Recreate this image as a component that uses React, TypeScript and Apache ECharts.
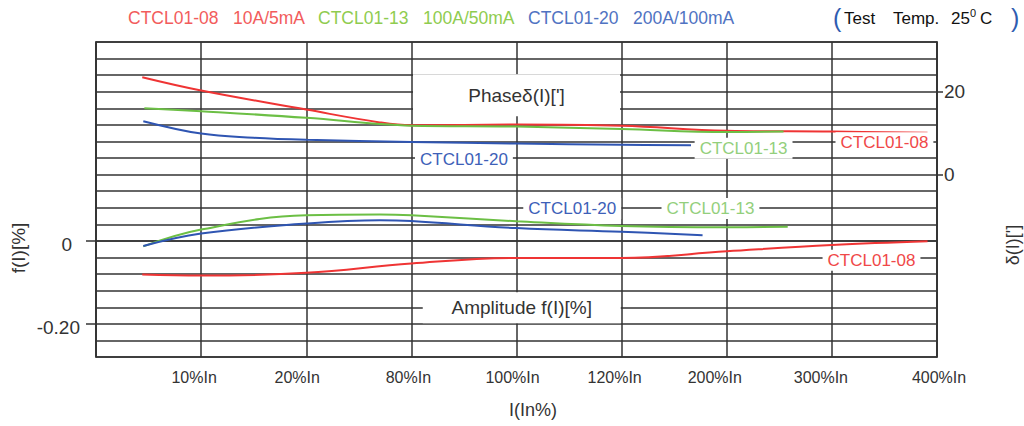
import React, { useEffect, useRef } from "react";
import * as echarts from "echarts";

// ---- data ----
const xTicks = ["", "10%In", "20%In", "80%In", "100%In", "120%In", "200%In", "300%In", "400%In"];
const leftTickValues = [0, -0.2];
const rightTickValues = [0, 20];

// Phase δ(I) ['] (right axis)
const phase08 = [[0.44, 23.5], [1, 20.3], [2, 15.7], [2.7, 12.6], [3, 11.9], [4, 12.1], [5, 11.8], [6, 10.6], [7, 10.4], [7.91, 10.1]];
const phase13 = [[0.46, 16.0], [1, 15.3], [2, 13.7], [2.7, 12.2], [3, 11.8], [4, 11.6], [5, 11.0], [6, 10.3], [6.54, 10.4]];
const phase20 = [[0.45, 12.9], [1, 9.9], [1.5, 8.9], [2, 8.4], [3, 7.9], [4, 7.5], [5, 7.2], [5.66, 7.07]];

// Amplitude f(I) [%] (left axis)
const amp08 = [[0.44, -0.081], [1, -0.0835], [2, -0.077], [3, -0.0545], [4, -0.041], [5, -0.041], [6, -0.025], [7, -0.010], [7.91, -0.001]];
const amp13 = [[0.45, -0.013], [1, 0.0275], [2, 0.062], [2.7, 0.064], [3, 0.062], [4, 0.0475], [5, 0.036], [6, 0.033], [6.58, 0.034]];
const amp20 = [[0.45, -0.012], [1, 0.018], [2, 0.042], [2.7, 0.05], [3, 0.048], [4, 0.031], [5, 0.022], [5.77, 0.014]];

const legendItems = ["CTCL01-08   10A/5mA", "CTCL01-13   100A/50mA", "CTCL01-20   200A/100mA"];
const seriesNames = ["CTCL01-08", "CTCL01-13", "CTCL01-20"];

const RED = "#ef3434";
const GREEN = "#6cbf45";
const BLUE = "#2f55b2";
const RED_T = "#f04848";
const GREEN_T = "#93cf7c";
const BLUE_T = "#3d60b8";
const FONT = "Liberation Sans, Arial, sans-serif";
const GRIDC = "#333";

// horizontal nudges of the x tick labels (px)
const xLabelShift = [0, -7, -9, -3, -4, -7, -12, -11, 2];

export default function App() {
  const ref = useRef<HTMLDivElement>(null);
  useEffect(() => {
    if (!ref.current) return;
    const chart = echarts.init(ref.current, null, { renderer: "svg" });
    const line = (name: string, data: number[][], color: string, yAxisIndex: number) => ({
      name,
      type: "line",
      data,
      yAxisIndex,
      smooth: 0.4,
      showSymbol: false,
      symbol: "none",
      lineStyle: { color, width: 2 },
      z: 5,
    });
    const xRich: Record<string, any> = {};
    xLabelShift.forEach((s, i) => {
      xRich["a" + i] = {
        fontSize: 16,
        color: "#333",
        fontFamily: FONT,
        padding: s < 0 ? [0, -2 * s, 0, 0] : [0, 0, 0, 2 * s],
      };
    });
    chart.setOption({
      animation: false,
      textStyle: { fontFamily: FONT },
      grid: { left: 96, right: 87, top: 42, bottom: 69, show: true, borderColor: GRIDC, borderWidth: 1.5 },
      xAxis: {
        type: "value",
        min: 0,
        max: 8,
        interval: 1,
        axisLine: { show: true, lineStyle: { color: GRIDC, width: 1.5 } },
        axisTick: { show: false },
        splitLine: { show: true, lineStyle: { color: GRIDC, width: 1.5 } },
        axisLabel: {
          formatter: (v: number) => {
            const i = Math.round(v);
            const t = xTicks[i] ?? "";
            return t ? `{a${i}|${t}}` : "";
          },
          rich: xRich,
          fontSize: 16,
          color: "#333",
          margin: 12,
          showMaxLabel: true,
          showMinLabel: true,
        },
      },
      yAxis: [
        {
          type: "value",
          position: "left",
          min: -0.28,
          max: 0.48,
          interval: 0.04,
          axisLine: { show: true, lineStyle: { color: GRIDC, width: 1.5 } },
          axisTick: { show: true, length: 10, customValues: leftTickValues, lineStyle: { color: GRIDC, width: 1.5 } },
          splitLine: { show: false },
          axisLabel: {
            customValues: leftTickValues,
            margin: 16,
            padding: [8, 0, 0, 0],
            formatter: (v: number) => (Math.abs(v) < 1e-9 ? "{z|0}" : "{n|" + v.toFixed(2) + "}"),
            rich: {
              z: { fontSize: 19, color: "#333", padding: [0, 8, 0, 0], fontFamily: FONT },
              n: { fontSize: 19, color: "#333", fontFamily: FONT },
            },
          },
        },
        {
          type: "value",
          position: "right",
          min: -44,
          max: 32,
          interval: 4,
          axisLine: { show: true, lineStyle: { color: GRIDC, width: 1.5 } },
          axisTick: { show: true, length: 6, customValues: rightTickValues, lineStyle: { color: GRIDC, width: 1.5 } },
          splitLine: { show: false },
          axisLabel: { customValues: rightTickValues, margin: 7, fontSize: 19, color: "#333" },
        },
        {
          type: "value",
          position: "left",
          min: -0.28,
          max: 0.48,
          interval: 0.04,
          axisLine: { show: false },
          axisTick: { show: false },
          axisLabel: { show: false },
          splitLine: { show: true, lineStyle: { color: GRIDC, width: 1.5 } },
        },
      ],
      series: [
        line(seriesNames[0] + " phase", phase08, RED, 1),
        line(seriesNames[1] + " phase", phase13, GREEN, 1),
        line(seriesNames[2] + " phase", phase20, BLUE, 1),
        line(seriesNames[0] + " amplitude", amp08, RED, 0),
        line(seriesNames[1] + " amplitude", amp13, GREEN, 0),
        line(seriesNames[2] + " amplitude", amp20, BLUE, 0),
      ],
    });

    const px = (x: number, f: number) => chart.convertToPixel({ xAxisIndex: 0, yAxisIndex: 0 }, [x, f]) as number[];
    const tag = (text: string, x: number, f: number, color: string) => {
      const p = px(x, f);
      return {
        type: "text",
        x: p[0],
        y: p[1],
        z: 100,
        style: {
          text,
          fill: color,
          font: `17px ${FONT}`,
          align: "center",
          verticalAlign: "middle",
          backgroundColor: "#fff",
          padding: [2, 5],
        },
      };
    };
    const box = (text: string, x: number, f: number, w: number, h: number) => {
      const p = px(x, f);
      return [
        { type: "rect", x: p[0] - w / 2, y: p[1] - h / 2, z: 99, shape: { width: w, height: h }, style: { fill: "#fff" } },
        {
          type: "text",
          x: p[0],
          y: p[1],
          z: 100,
          style: { text, fill: "#333", font: `19px ${FONT}`, align: "center", verticalAlign: "middle" },
        },
      ];
    };
    const plain = (text: string, x: number, y: number, size: number, color: string) => ({
      type: "text",
      x,
      y,
      style: { text, fill: color, font: `${size}px ${FONT}`, align: "left", verticalAlign: "middle" },
    });
    const legendX = [128, 318, 528];
    const legendC = ["#f25c5c", "#8fcc4f", "#5073c2"];
    chart.setOption({
      graphic: [
        ...box("Phaseδ(I)[']", 4.0, 0.3516, 207, 42),
        ...box("Amplitude f(I)[%]", 4.05, -0.161, 198, 31),
        tag(seriesNames[2], 3.5, 0.196, BLUE_T),
        tag(seriesNames[1], 6.16, 0.2237, GREEN_T),
        tag(seriesNames[0], 7.5, 0.237, RED_T),
        tag(seriesNames[2], 4.53, 0.078, BLUE_T),
        tag(seriesNames[1], 5.845, 0.078, GREEN_T),
        tag(seriesNames[0], 7.377, -0.0466, RED_T),
        ...legendItems.map((t, i) => ({
          type: "text",
          x: legendX[i],
          y: 18,
          style: { text: t, fill: legendC[i], font: `17.5px ${FONT}`, align: "left", verticalAlign: "middle" },
        })),
        plain("(", 833, 18, 25, "#2f5cb0"),
        plain("Test", 844, 18, 17, "#111"),
        plain("Temp.", 893, 18, 17, "#111"),
        plain("25", 951, 18, 17, "#111"),
        plain("0", 970, 13, 11, "#111"),
        plain("C", 980, 18, 17, "#111"),
        plain(")", 1011, 18, 25, "#2f5cb0"),
        {
          type: "text",
          x: 18,
          y: 248,
          rotation: Math.PI / 2,
          style: { text: "f(I)[%]", fill: "#333", font: `19px ${FONT}`, align: "center", verticalAlign: "middle" },
        },
        {
          type: "text",
          x: 1013,
          y: 245,
          rotation: Math.PI / 2,
          style: { text: "δ(I)[']", fill: "#333", font: `18px ${FONT}`, align: "center", verticalAlign: "middle" },
        },
        {
          type: "text",
          x: 533,
          y: 410,
          style: { text: "I(In%)", fill: "#333", font: `18px ${FONT}`, align: "center", verticalAlign: "middle" },
        },
      ],
    });
    return () => chart.dispose();
  }, []);
  return <div ref={ref} style={{ position: "fixed", left: 0, top: 0, width: 1024, height: 426, background: "#fff" }} />;
}
